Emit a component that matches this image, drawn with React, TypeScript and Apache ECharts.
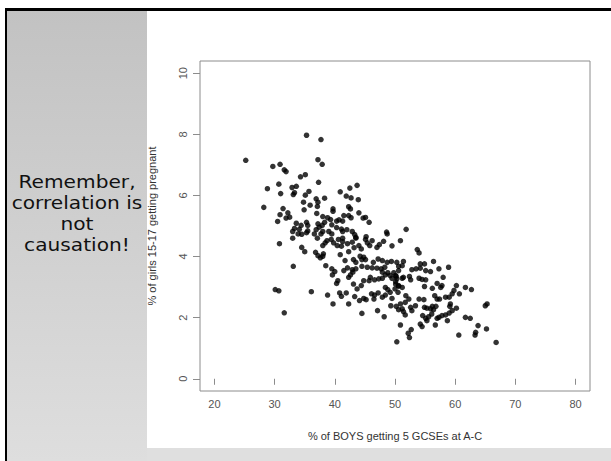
import React, { useEffect, useRef } from "react";
import * as echarts from "echarts";

// % of BOYS getting 5 GCSEs at A-C
const boysPct: number[] = [
  35.3, 37.7, 25.2, 37.2, 37.9, 29.7, 30.9, 31.6, 31.9, 34.3, 35.1, 37.3, 30.7, 28.8, 32.9, 33.6, 33.3, 33.1, 31.0, 35.7,
  35.1, 40.9, 42.5, 43.7, 41.9, 42.7, 43.9, 36.9, 37.2, 38.3, 34.8, 35.9, 37.1, 28.2, 31.4, 34.9, 39.7, 39.7, 42.3, 42.6,
  44.0, 30.9, 32.2, 32.5, 31.9, 37.0, 38.0, 38.8, 39.3, 40.3, 40.7, 41.5, 41.3, 42.3, 42.7, 44.7, 45.1, 45.7, 30.5, 33.6,
  33.3, 34.4, 34.1, 35.3, 35.5, 37.2, 37.4, 38.3, 37.9, 39.5, 40.3, 33.0, 33.9, 34.5, 35.5, 35.3, 36.9, 36.6, 38.0, 37.7,
  39.0, 39.5, 41.1, 41.3, 42.0, 42.9, 43.3, 43.5, 45.2, 48.6, 48.7, 51.85,
  30.8, 33.0, 34.5, 35.0, 37.1, 36.8, 37.2, 37.6, 38.0, 38.1, 38.0, 38.4, 38.7, 39.4, 39.8, 40.4, 41.1, 40.6, 41.3, 41.3,
  42.1, 42.9, 43.5, 42.3, 43.2, 44.0, 44.4, 45.1, 45.4, 46.2, 45.8, 47.0, 47.4, 48.1, 49.5, 40.9, 41.7, 43.1, 43.5, 44.2,
  44.8, 44.5, 45.1, 46.4, 47.2, 47.9, 48.7, 49.4, 33.1, 38.5, 39.5, 40.0, 39.6, 41.5, 42.1, 42.9, 43.5, 42.6, 43.0, 42.3,
  44.5, 45.4, 46.2, 47.0, 47.7, 48.3, 47.9, 48.4, 48.8, 49.2, 49.8, 50.2, 50.6, 45.9, 46.6, 47.3, 47.9, 49.5, 50.1, 40.5,
  40.3, 43.1, 44.8, 45.7, 44.4, 43.7, 48.4, 48.8, 49.2, 50.0, 50.6, 30.1, 30.7, 36.1, 38.8, 40.8, 41.1, 41.9, 43.3, 44.1,
  44.8, 45.2, 46.1, 46.6, 47.2, 46.5, 47.9, 48.4, 49.5, 49.3, 50.2, 39.7, 42.3, 47.1, 48.2, 44.5, 31.6, 50.3,
  50.9, 53.7, 54.0, 51.4, 51.2, 50.6, 50.3, 54.2, 54.9, 56.4, 52.8, 53.5, 54.2, 55.1, 55.9, 57.3, 58.9, 50.1, 50.3, 51.2,
  51.4, 52.4, 52.6, 54.0, 54.5, 55.1, 58.0, 57.0, 57.8, 57.6, 50.1, 50.6, 51.2, 54.9, 56.2, 60.2, 61.7, 62.7, 59.8, 59.5,
  60.7, 50.5, 51.8, 52.3, 51.7, 54.0, 54.8, 56.6, 57.0, 57.4, 58.4, 59.0, 59.2, 59.1, 50.9, 50.6, 51.2, 51.7, 51.4, 52.8,
  53.4, 52.6, 54.9, 55.3, 55.9, 56.4, 56.8, 56.2, 54.6, 55.1, 55.3, 55.6, 56.1, 57.3, 57.8, 58.4, 59.0, 59.5, 60.2, 58.7,
  57.0, 61.7, 62.5, 65.0, 65.3, 63.8, 65.2, 63.4, 63.3, 60.6, 66.8, 54.2, 54.5, 56.7, 50.9, 52.7, 52.2, 52.4,
];

// % of girls 15-17 getting pregnant
const girlsPct: number[] = [
  7.97, 7.83, 7.15, 7.17, 7.02, 6.95, 7.02, 6.84, 6.78, 6.61, 6.68, 6.43, 6.37, 6.22, 6.26, 6.30, 6.09, 6.03, 6.06, 6.13,
  6.01, 6.12, 6.24, 6.33, 5.98, 5.92, 5.86, 5.89, 5.78, 5.91, 5.78, 5.68, 5.64, 5.61, 5.57, 5.53, 5.56, 5.48, 5.63, 5.56,
  5.43, 5.37, 5.43, 5.29, 5.26, 5.41, 5.31, 5.27, 5.21, 5.16, 5.20, 5.34, 5.16, 5.34, 5.27, 5.26, 5.28, 5.12, 5.15, 5.09,
  4.92, 5.02, 4.89, 5.12, 5.02, 5.07, 4.96, 5.12, 5.02, 5.04, 4.95, 4.82, 4.74, 4.73, 4.84, 4.78, 4.88, 4.74, 4.82, 4.74,
  4.82, 4.74, 4.90, 4.82, 4.88, 4.82, 4.72, 4.63, 4.65, 4.80, 4.74, 4.89,
  4.42, 4.60, 4.30, 4.16, 4.60, 4.14, 4.03, 3.96, 4.01, 4.09, 4.36, 4.45, 4.52, 4.56, 4.45, 4.36, 4.34, 4.56, 4.60, 4.49,
  4.42, 4.47, 4.60, 4.16, 4.29, 4.36, 4.25, 4.56, 4.45, 4.52, 4.36, 4.30, 4.39, 4.50, 4.35, 4.06, 3.87, 3.90, 3.81, 4.01,
  3.98, 3.90, 3.90, 3.81, 3.92, 3.87, 3.81, 3.84, 3.68, 3.70, 3.60, 3.51, 3.40, 3.54, 3.63, 3.57, 3.60, 3.40, 3.49, 3.32,
  3.68, 3.65, 3.63, 3.62, 3.60, 3.65, 3.49, 3.40, 3.47, 3.38, 3.47, 3.35, 3.54, 3.32, 3.24, 3.27, 3.29, 3.29, 3.18, 3.21,
  3.12, 3.10, 3.21, 3.21, 3.05, 2.94, 2.99, 2.92, 2.83, 2.94, 3.03, 2.92, 2.88, 2.85, 2.74, 2.81, 2.70, 2.81, 2.69, 2.56,
  2.63, 2.59, 2.78, 2.74, 2.81, 2.61, 2.67, 2.74, 2.63, 2.39, 2.37, 2.45, 2.45, 2.23, 2.03, 2.14, 2.16, 1.21,
  4.52, 4.23, 4.12, 3.84, 3.70, 3.68, 3.81, 3.76, 3.76, 3.84, 3.57, 3.60, 3.62, 3.54, 3.51, 3.60, 3.65, 3.38, 3.27, 3.29,
  3.32, 3.35, 3.24, 3.29, 3.25, 3.24, 3.32, 3.12, 3.05, 2.99, 3.10, 3.05, 2.99, 3.02, 2.96, 3.05, 2.99, 2.92, 2.89, 2.78,
  2.78, 2.83, 2.72, 2.61, 2.50, 2.61, 2.59, 2.72, 2.61, 2.61, 2.67, 2.67, 2.45, 2.37, 2.45, 2.26, 2.29, 2.09, 2.20, 2.23,
  2.39, 2.34, 2.34, 2.31, 2.29, 2.26, 2.37, 2.37, 2.07, 1.98, 1.90, 2.03, 2.12, 2.01, 2.07, 2.09, 2.15, 2.23, 2.31, 1.90,
  1.98, 2.01, 1.98, 2.39, 2.45, 1.74, 1.63, 1.52, 1.43, 1.43, 1.19, 1.79, 1.71, 1.76, 1.76, 1.61, 1.49, 1.35,
];

const xTicks = [20, 30, 40, 50, 60, 70, 80];
const yTicks = [0, 2, 4, 6, 8, 10];

const xTitle = "% of BOYS getting 5 GCSEs at A-C";
const yTitle = "% of girls 15-17 getting pregnant";
const sideNoteLines = ["Remember,", "correlation is", "not", "causation!"];

export default function App() {
  const ref = useRef<HTMLDivElement>(null);

  useEffect(() => {
    if (!ref.current) return;
    const chart = echarts.init(ref.current, null, { renderer: "svg" });
    const points = boysPct.map((x, i) => [x, girlsPct[i]]);
    const axisColor = "#8c8c8c";
    const labelFont = "Liberation Sans";

    const noteTexts = sideNoteLines.map((line, i) => ({
      type: "text",
      z: 5,
      silent: true,
      x: 77,
      y: 182 + i * 21,
      scaleX: 1.12,
      style: {
        text: line,
        align: "center",
        verticalAlign: "middle",
        fontFamily: "DejaVu Sans",
        fontSize: 18,
        fill: "#111111",
      },
    }));

    chart.setOption({
      animation: false,
      backgroundColor: "#ffffff",
      grid: {
        left: 200,
        top: 61,
        width: 390,
        height: 330,
        show: true,
        borderColor: axisColor,
        borderWidth: 1,
        backgroundColor: "transparent",
        z: 1,
      },
      graphic: [
        {
          type: "rect",
          z: -10,
          silent: true,
          shape: { x: 7, y: 11, width: 140, height: 450 },
          style: {
            fill: new echarts.graphic.LinearGradient(0, 0, 0, 1, [
              { offset: 0, color: "#c2c2c2" },
              { offset: 1, color: "#dedede" },
            ]),
          },
        },
        {
          type: "rect",
          z: -10,
          silent: true,
          shape: { x: 147, y: 448, width: 464, height: 13 },
          style: { fill: "#dfdfdf" },
        },
        {
          type: "rect",
          z: -5,
          silent: true,
          shape: { x: 5, y: 8, width: 606, height: 3 },
          style: { fill: "#000000" },
        },
        {
          type: "rect",
          z: -5,
          silent: true,
          shape: { x: 5, y: 8, width: 2, height: 453 },
          style: { fill: "#000000" },
        },
        ...noteTexts,
      ],
      xAxis: {
        type: "value",
        min: 17.6,
        max: 82.4,
        name: xTitle,
        nameLocation: "middle",
        nameGap: 39,
        nameTextStyle: { fontFamily: labelFont, fontSize: 11, color: "#333333" },
        axisLine: { show: false },
        splitLine: { show: false },
        axisTick: {
          show: true,
          length: 6,
          customValues: xTicks,
          lineStyle: { color: axisColor },
        },
        axisLabel: {
          customValues: xTicks,
          margin: 7,
          fontFamily: labelFont,
          fontSize: 11,
          color: "#555555",
        },
      },
      yAxis: {
        type: "value",
        min: -0.4,
        max: 10.4,
        name: yTitle,
        nameLocation: "middle",
        nameGap: 43,
        nameRotate: 90,
        nameTextStyle: { fontFamily: labelFont, fontSize: 11, color: "#333333" },
        axisLine: { show: false },
        splitLine: { show: false },
        axisTick: {
          show: true,
          length: 7,
          customValues: yTicks,
          lineStyle: { color: axisColor },
        },
        axisLabel: {
          customValues: yTicks,
          rotate: 90,
          margin: 12,
          fontFamily: labelFont,
          fontSize: 11,
          color: "#555555",
        },
      },
      series: [
        {
          type: "scatter",
          data: points,
          symbol: "circle",
          symbolSize: 5.5,
          itemStyle: { color: "#000000" },
          silent: true,
        },
      ],
    });

    return () => chart.dispose();
  }, []);

  return (
    <div
      ref={ref}
      style={{ position: "fixed", left: 0, top: 0, width: 611, height: 461 }}
    />
  );
}
